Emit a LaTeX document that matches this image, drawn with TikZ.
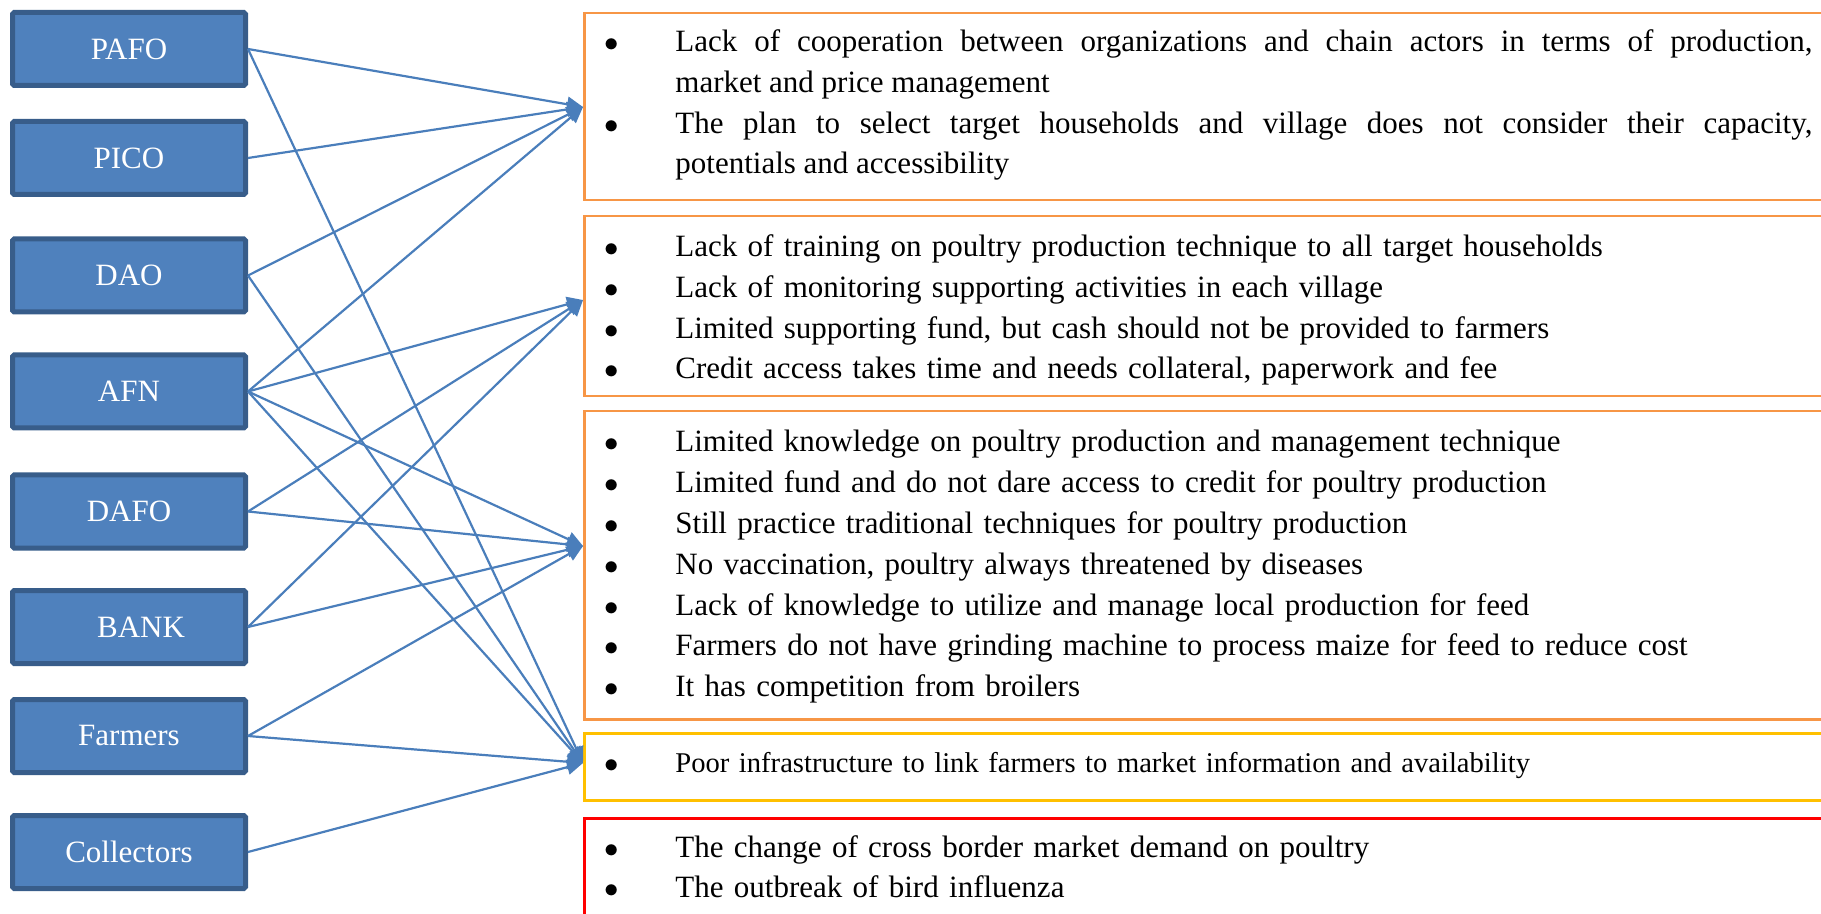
\documentclass[tikz,border=0pt]{standalone}
\usepackage{fontspec}
\setmainfont{Liberation Serif}
\usepackage{tikz}
\usetikzlibrary{arrows.meta}

\definecolor{actorfill}{HTML}{4F81BD}
\definecolor{actorline}{HTML}{385D8A}
\definecolor{linkblue}{HTML}{4A7EBB}
\definecolor{boxorange}{HTML}{F79646}
\definecolor{boxyellow}{HTML}{FFC000}
\definecolor{boxred}{HTML}{FF0000}

% one bulleted problem, hanging indent, closed by its own \par
\newcommand{\pitem}[1]{\noindent\hangindent=36.5pt\hangafter=1\makebox[36.5pt][l]{\hspace{1pt}$\bullet$}#1\par}

\begin{document}
\begin{tikzpicture}[x=0.5pt, y=-0.5pt,
    actor/.style={rectangle, draw=actorline, fill=actorfill, line width=2.5pt, minimum width=116.5pt, minimum height=36.5pt, inner sep=0pt, text=white, font=\fontsize{15.5pt}{18pt}\selectfont, rounded corners=0.8pt},
    probbox/.style={rectangle, line width=1.25pt, minimum width=700pt, anchor=north west, inner sep=0pt},
    problist/.style={anchor=base west, inner sep=0pt, text width=605pt, align=left, font=\fontsize{15.5pt}{20.3pt}\selectfont},
    link/.style={draw=linkblue, line width=1.1pt, -{Triangle[length=8pt,width=7.5pt]}}]
        \useasboundingbox (0,0) rectangle (1821,914);
        \clip (0,0) rectangle (1821,914);

        % Define the actors
        \node[actor] (pafo) at (129,49) {PAFO};
        \node[actor] (pico) at (129,158) {PICO};
        \node[actor] (dao) at (129,275.5) {DAO};
        \node[actor] (afn) at (129,391.5) {AFN};
        \node[actor] (dafo) at (129,511.5) {DAFO};
        \node[actor] (bank) at (129,627) {\hspace*{12pt}BANK};
        \node[actor] (farmers) at (129,736) {Farmers};
        \node[actor] (collectors) at (129,852) {Collectors};

        % Define the problem boxes
        \node[probbox, draw=boxorange, minimum height=93.5pt] (box1) at (583,12) {};
        \node[probbox, draw=boxorange, minimum height=90pt] (box2) at (583,215) {};
        \node[probbox, draw=boxorange, minimum height=154pt] (box3) at (583,410) {};
        \node[probbox, draw=boxyellow, minimum height=33.5pt] (box4) at (583,732) {};
        \node[probbox, draw=boxred, minimum height=92pt] (box5) at (583,817) {};

        % Define the problem lists
        \node[problist, align=justify] (list1) at (602,52) {\pitem{Lack of cooperation between organizations and chain actors in terms of production,\linebreak market and price management}\pitem{The plan to select target households and village does not consider their capacity,\linebreak potentials and accessibility}};
        \node[problist] (list2) at (602,257) {\pitem{Lack of training on poultry production technique to all target households}\pitem{Lack of monitoring supporting activities in each village}\pitem{Limited supporting fund, but cash should not be provided to farmers}\pitem{Credit access takes time and needs collateral, paperwork and fee}};
        \node[problist, font=\fontsize{15.5pt}{20.4pt}\selectfont] (list3) at (602,452) {\pitem{Limited knowledge on poultry production and management technique}\pitem{Limited fund and do not dare access to credit for poultry production}\pitem{Still practice traditional techniques for poultry production}\pitem{No vaccination, poultry always threatened by diseases}\pitem{Lack of knowledge to utilize and manage local production for feed}\pitem{Farmers do not have grinding machine to process maize for feed to reduce cost}\pitem{It has competition from broilers}};
        \node[problist, font=\fontsize{14.3pt}{20.3pt}\selectfont] (list4) at (602,772) {\pitem{Poor infrastructure to link farmers to market information and availability}};
        \node[problist] (list5) at (602,857) {\pitem{The change of cross border market demand on poultry}\pitem{The outbreak of bird influenza}};

        % Define the arrow ends
        \coordinate (hit1) at (583,107);
        \coordinate (hit2) at (583,300);
        \coordinate (hit3) at (583,546);
        \coordinate (hit4) at (583,763);

        % Define the links
        \draw[link] (pafo.east) -- (hit1);
        \draw[link] (pafo.east) -- (hit4);
        \draw[link] (pico.east) -- (hit1);
        \draw[link] (dao.east) -- (hit1);
        \draw[link] (dao.east) -- (hit4);
        \draw[link] (afn.east) -- (hit1);
        \draw[link] (afn.east) -- (hit2);
        \draw[link] (afn.east) -- (hit3);
        \draw[link] (afn.east) -- (hit4);
        \draw[link] (dafo.east) -- (hit2);
        \draw[link] (dafo.east) -- (hit3);
        \draw[link] (bank.east) -- (hit2);
        \draw[link] (bank.east) -- (hit3);
        \draw[link] (farmers.east) -- (hit3);
        \draw[link] (farmers.east) -- (hit4);
        \draw[link] (collectors.east) -- (hit4);

    \end{tikzpicture}
\end{document}
